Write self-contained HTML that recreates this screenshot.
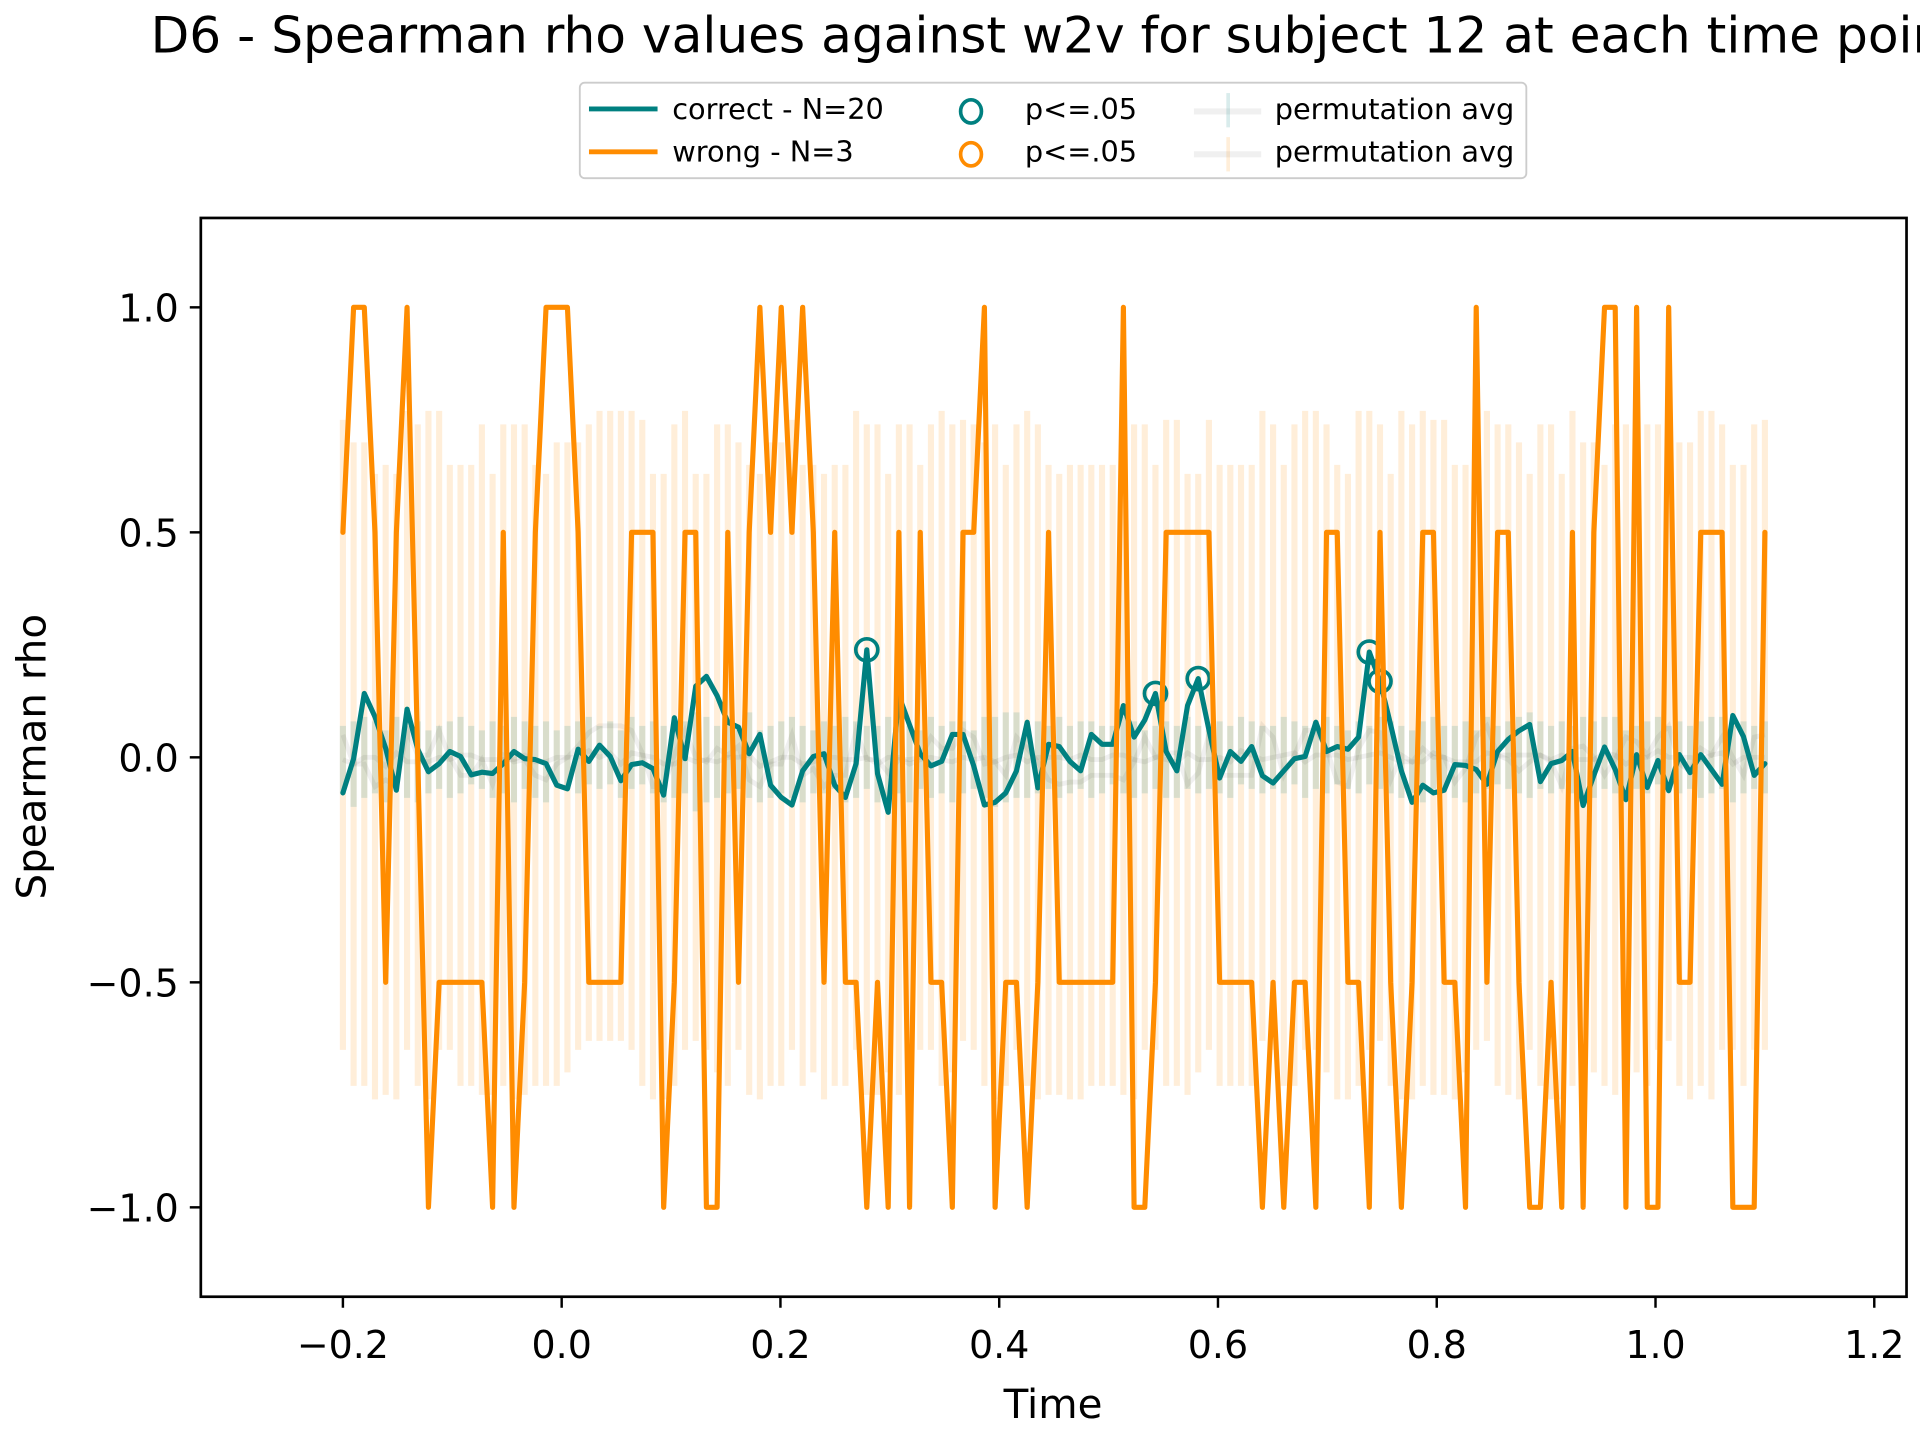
<!DOCTYPE html>
<html><head><meta charset="utf-8"><title>D6 Spearman rho</title>
<style>html,body{margin:0;padding:0;background:#fff;}svg{display:block;font-family:"DejaVu Sans","Liberation Sans",sans-serif;}</style>
</head><body>
<svg id="chart" width="1920" height="1440" viewBox="0 0 1568 1176" xmlns="http://www.w3.org/2000/svg">
<rect x="0" y="0" width="1568" height="1176" fill="#fff"/>
<text x="123" y="43" font-size="41" fill="#000">D6 - Spearman rho values against w2v for subject 12 at each time point</text>
<g id="plot"></g>
<rect x="164" y="178" width="1393" height="881" fill="none" stroke="#000" stroke-width="2.2"/>
<g id="xticks"></g>
<g id="yticks"></g>
<text x="860" y="1158" font-size="33" text-anchor="middle">Time</text>
<text transform="translate(37,618) rotate(-90)" font-size="33" text-anchor="middle">Spearman rho</text>
<g>
<rect x="473.5" y="67.5" width="773" height="78" rx="4" fill="#fff" stroke="#ccc" stroke-width="1.5"/>
<line x1="481" y1="89" x2="537" y2="89" stroke="#008080" stroke-width="4"/>
<text x="549" y="97" font-size="23.5">correct - N=20</text>
<line x1="481" y1="124" x2="537" y2="124" stroke="#ff8c00" stroke-width="4"/>
<text x="549" y="132" font-size="23.5">wrong - N=3</text>
<ellipse cx="793" cy="91" rx="8.5" ry="9.5" fill="none" stroke="#008080" stroke-width="3"/>
<text x="837" y="97" font-size="23.5">p&lt;=.05</text>
<ellipse cx="793" cy="126" rx="8.5" ry="9.5" fill="none" stroke="#ff8c00" stroke-width="3"/>
<text x="837" y="132" font-size="23.5">p&lt;=.05</text>
<line x1="975" y1="91" x2="1030" y2="91" stroke="#000" stroke-opacity="0.06" stroke-width="5"/>
<line x1="1003" y1="76" x2="1003" y2="104" stroke="#008080" stroke-opacity="0.15" stroke-width="3"/>
<text x="1041" y="97" font-size="23.5">permutation avg</text>
<line x1="975" y1="126" x2="1030" y2="126" stroke="#000" stroke-opacity="0.06" stroke-width="5"/>
<line x1="1003" y1="112" x2="1003" y2="140" stroke="#ff8c00" stroke-opacity="0.15" stroke-width="3"/>
<text x="1041" y="132" font-size="23.5">permutation avg</text>
</g>
</svg>
<script>
const correctRho = [-0.079,-0.003,0.142,0.09,0.02,-0.073,0.107,0.018,-0.032,-0.014,0.013,0.002,-0.039,-0.033,-0.036,-0.014,0.013,-0.003,-0.005,-0.014,-0.062,-0.07,0.018,-0.009,0.027,0.002,-0.052,-0.016,-0.012,-0.025,-0.084,0.088,-0.003,0.158,0.18,0.137,0.078,0.067,0.008,0.051,-0.062,-0.089,-0.106,-0.03,0.002,0.008,-0.062,-0.089,-0.014,0.239,-0.036,-0.122,0.137,0.072,0.008,-0.019,-0.009,0.051,0.051,-0.019,-0.106,-0.1,-0.079,-0.03,0.078,-0.068,0.029,0.024,-0.009,-0.03,0.051,0.029,0.029,0.115,0.045,0.083,0.142,0.013,-0.03,0.115,0.175,0.061,-0.046,0.013,-0.009,0.024,-0.041,-0.057,-0.03,-0.003,0.002,0.078,0.013,0.024,0.018,0.045,0.234,0.169,0.072,-0.03,-0.1,-0.062,-0.079,-0.073,-0.016,-0.018,-0.027,-0.06,0.013,0.04,0.059,0.073,-0.054,-0.014,-0.007,0.013,-0.107,-0.04,0.023,-0.027,-0.094,0.006,-0.067,-0.007,-0.074,0.006,-0.034,0.006,-0.027,-0.06,0.093,0.046,-0.04,-0.014];
const wrongRho = [0.5,1,1,0.5,-0.5,0.5,1,0,-1,-0.5,-0.5,-0.5,-0.5,-0.5,-1,0.5,-1,-0.5,0.5,1,1,1,0.5,-0.5,-0.5,-0.5,-0.5,0.5,0.5,0.5,-1,-0.5,0.5,0.5,-1,-1,0.5,-0.5,0.5,1,0.5,1,0.5,1,0.5,-0.5,0.5,-0.5,-0.5,-1,-0.5,-1,0.5,-1,0.5,-0.5,-0.5,-1,0.5,0.5,1,-1,-0.5,-0.5,-1,-0.5,0.5,-0.5,-0.5,-0.5,-0.5,-0.5,-0.5,1,-1,-1,-0.5,0.5,0.5,0.5,0.5,0.5,-0.5,-0.5,-0.5,-0.5,-1,-0.5,-1,-0.5,-0.5,-1,0.5,0.5,-0.5,-0.5,-1,0.5,-0.5,-1,-0.5,0.5,0.5,-0.5,-0.5,-1,1,-0.5,0.5,0.5,-0.5,-1,-1,-0.5,-1,0.5,-1,0.5,1,1,-1,1,-1,-1,1,-0.5,-0.5,0.5,0.5,0.5,-1,-1,-1,0.5];
const correctSigIdx = [49,76,80,96,97];
const wrongPermTop = [0.75,0.70,0.70,0.63,0.65,0.63,0.77,0.74,0.77,0.77,0.65,0.65,0.65,0.74,0.63,0.74,0.74,0.74,0.65,0.63,0.70,0.70,0.70,0.74,0.77,0.77,0.77,0.77,0.75,0.63,0.63,0.74,0.77,0.63,0.63,0.74,0.74,0.70,0.65,0.63,0.70,0.70,0.75,0.65,0.65,0.63,0.65,0.65,0.77,0.74,0.74,0.63,0.74,0.74,0.65,0.74,0.77,0.74,0.75,0.74,0.70,0.74,0.65,0.74,0.77,0.74,0.65,0.63,0.65,0.65,0.65,0.65,0.65,0.65,0.74,0.74,0.65,0.75,0.75,0.63,0.63,0.75,0.65,0.65,0.65,0.65,0.77,0.74,0.65,0.74,0.77,0.77,0.74,0.65,0.63,0.77,0.77,0.74,0.63,0.77,0.74,0.77,0.75,0.75,0.65,0.65,0.74,0.77,0.74,0.74,0.70,0.63,0.74,0.74,0.63,0.77,0.70,0.70,0.65,0.74,0.74,0.77,0.74,0.74,0.77,0.70,0.70,0.77,0.77,0.74,0.65,0.65,0.74,0.75];
const wrongPermBot = [-0.65,-0.73,-0.73,-0.76,-0.75,-0.76,-0.65,-0.73,-0.76,-0.65,-0.65,-0.73,-0.73,-0.75,-0.75,-0.73,-0.76,-0.75,-0.73,-0.73,-0.73,-0.70,-0.65,-0.63,-0.63,-0.63,-0.63,-0.65,-0.73,-0.76,-0.76,-0.73,-0.65,-0.63,-0.65,-0.70,-0.73,-0.65,-0.75,-0.76,-0.73,-0.73,-0.65,-0.73,-0.70,-0.76,-0.73,-0.73,-0.65,-0.75,-0.75,-0.70,-0.75,-0.75,-0.65,-0.65,-0.73,-0.70,-0.63,-0.65,-0.73,-0.76,-0.73,-0.65,-0.73,-0.76,-0.75,-0.75,-0.76,-0.76,-0.73,-0.73,-0.73,-0.75,-0.76,-0.65,-0.65,-0.73,-0.73,-0.75,-0.70,-0.65,-0.73,-0.73,-0.73,-0.73,-0.63,-0.65,-0.73,-0.73,-0.65,-0.65,-0.70,-0.76,-0.76,-0.73,-0.65,-0.63,-0.73,-0.76,-0.76,-0.73,-0.75,-0.75,-0.76,-0.70,-0.65,-0.63,-0.73,-0.75,-0.76,-0.65,-0.73,-0.76,-0.76,-0.73,-0.65,-0.70,-0.73,-0.75,-0.65,-0.70,-0.73,-0.65,-0.63,-0.73,-0.76,-0.73,-0.76,-0.65,-0.65,-0.73,-0.65,-0.65];
const correctPermTop = [0.07,0.08,0.09,0.08,0.06,0.09,0.07,0.08,0.06,0.07,0.08,0.09,0.07,0.06,0.08,0.07,0.09,0.08,0.07,0.08,0.06,0.07,0.08,0.09,0.07,0.08,0.06,0.09,0.07,0.08,0.07,0.06,0.08,0.1,0.09,0.07,0.08,0.07,0.1,0.06,0.07,0.08,0.09,0.07,0.06,0.08,0.07,0.09,0.08,0.07,0.07,0.09,0.08,0.07,0.06,0.09,0.07,0.08,0.08,0.06,0.09,0.09,0.1,0.1,0.07,0.08,0.07,0.09,0.07,0.08,0.08,0.07,0.07,0.09,0.08,0.06,0.07,0.08,0.07,0.09,0.07,0.06,0.08,0.07,0.09,0.08,0.07,0.07,0.09,0.08,0.07,0.08,0.09,0.07,0.06,0.08,0.07,0.09,0.08,0.07,0.06,0.08,0.09,0.07,0.07,0.08,0.06,0.09,0.07,0.08,0.09,0.1,0.08,0.07,0.08,0.07,0.09,0.08,0.09,0.09,0.06,0.07,0.08,0.09,0.07,0.08,0.07,0.08,0.09,0.09,0.07,0.08,0.07,0.08];
const correctPermBot = [-0.08,-0.11,-0.09,-0.08,-0.1,-0.07,-0.09,-0.1,-0.08,-0.07,-0.09,-0.08,-0.06,-0.07,-0.09,-0.08,-0.1,-0.07,-0.09,-0.1,-0.06,-0.07,-0.08,-0.06,-0.07,-0.06,-0.09,-0.07,-0.06,-0.08,-0.1,-0.09,-0.08,-0.12,-0.1,-0.09,-0.08,-0.07,-0.09,-0.1,-0.09,-0.08,-0.09,-0.1,-0.08,-0.08,-0.07,-0.1,-0.09,-0.07,-0.1,-0.09,-0.08,-0.1,-0.07,-0.09,-0.08,-0.1,-0.08,-0.07,-0.09,-0.11,-0.1,-0.09,-0.09,-0.08,-0.07,-0.09,-0.08,-0.07,-0.09,-0.08,-0.06,-0.08,-0.09,-0.08,-0.07,-0.09,-0.09,-0.07,-0.08,-0.07,-0.08,-0.09,-0.06,-0.07,-0.08,-0.07,-0.08,-0.06,-0.09,-0.07,-0.08,-0.06,-0.07,-0.08,-0.06,-0.07,-0.08,-0.09,-0.08,-0.1,-0.07,-0.07,-0.09,-0.1,-0.08,-0.07,-0.06,-0.07,-0.08,-0.09,-0.07,-0.08,-0.07,-0.08,-0.1,-0.09,-0.07,-0.08,-0.09,-0.07,-0.08,-0.06,-0.07,-0.08,-0.07,-0.09,-0.08,-0.07,-0.1,-0.08,-0.07,-0.08];
const xTickValues = [-0.2,0.0,0.2,0.4,0.6,0.8,1.0,1.2];
const xTickLabels = ["\u22120.2","0.0","0.2","0.4","0.6","0.8","1.0","1.2"];
const yTickValues = [1.0,0.5,0.0,-0.5,-1.0];
const yTickLabels = ["1.0","0.5","0.0","\u22120.5","\u22121.0"];
const tStart = -0.2, tEnd = 1.1;

const NS = "http://www.w3.org/2000/svg";
const times = correctRho.map((_, i) => tStart + i * (tEnd - tStart) / (correctRho.length - 1));
function xScale(t){ return 458.7 + t * 893.3; }
function yScale(v){ return 618.5 - v * 367.5; }
function mk(tag, attrs, parent){ const e = document.createElementNS(NS, tag); for (const k in attrs) e.setAttribute(k, attrs[k]); parent.appendChild(e); return e; }

const plot = document.getElementById('plot');
times.forEach((t, i) => {
  if (wrongPermTop[i] === undefined) return;
  const b = mk('line', {x1: xScale(t), x2: xScale(t), y1: yScale(wrongPermTop[i]), y2: yScale(wrongPermBot[i]), stroke: '#ff8c00', 'stroke-opacity': 0.15, 'stroke-width': 5}, plot);
  
  
});
times.forEach((t, i) => {
  if (correctPermTop[i] === undefined) return;
  const b = mk('line', {x1: xScale(t), x2: xScale(t), y1: yScale(correctPermTop[i]), y2: yScale(correctPermBot[i]), stroke: '#008080', 'stroke-opacity': 0.15, 'stroke-width': 5}, plot);
  
  
});
function pathFrom(vals){ return vals.map((v, i) => (i ? 'L' : 'M') + xScale(times[i]).toFixed(2) + ',' + yScale(v).toFixed(2)).join(''); }
const wMean = wrongPermTop.map((v, i) => (v + wrongPermBot[i]) / 2);
const cMean = correctPermTop.map((v, i) => (v + correctPermBot[i]) / 2);
const m1 = mk('path', {d: pathFrom(wMean), fill: 'none', stroke: '#000', 'stroke-opacity': 0.06, 'stroke-width': 4}, plot);


const m2 = mk('path', {d: pathFrom(cMean), fill: 'none', stroke: '#000', 'stroke-opacity': 0.06, 'stroke-width': 4}, plot);


const cl = mk('path', {d: pathFrom(correctRho), fill: 'none', stroke: '#008080', 'stroke-width': 4.2, 'stroke-linejoin': 'round', 'stroke-linecap': 'round'}, plot);


correctSigIdx.forEach(i => {
  const c = mk('ellipse', {cx: xScale(times[i]), cy: yScale(correctRho[i]), rx: 9, ry: 9, fill: 'none', stroke: '#008080', 'stroke-width': 3}, plot);
  
  
});
const wl = mk('path', {d: pathFrom(wrongRho), fill: 'none', stroke: '#ff8c00', 'stroke-width': 4.2, 'stroke-linejoin': 'round', 'stroke-linecap': 'round'}, plot);



const xg = document.getElementById('xticks');
xTickValues.forEach((v, i) => {
  const x = xScale(v);
  const tk = mk('line', {x1: x, x2: x, y1: 1059, y2: 1068, stroke: '#000', 'stroke-width': 2}, xg);
  
  
  const tx = mk('text', {x: x, y: 1109, 'font-size': 31, 'text-anchor': 'middle'}, xg);
  tx.textContent = xTickLabels[i];
  
  
});
const yg = document.getElementById('yticks');
yTickValues.forEach((v, i) => {
  const y = yScale(v);
  const tk = mk('line', {x1: 155, x2: 164, y1: y, y2: y, stroke: '#000', 'stroke-width': 2}, yg);
  
  
  const tx = mk('text', {x: 146, y: y + 11.5, 'font-size': 31, 'text-anchor': 'end'}, yg);
  tx.textContent = yTickLabels[i];
  
  
});
</script>
</body></html>
